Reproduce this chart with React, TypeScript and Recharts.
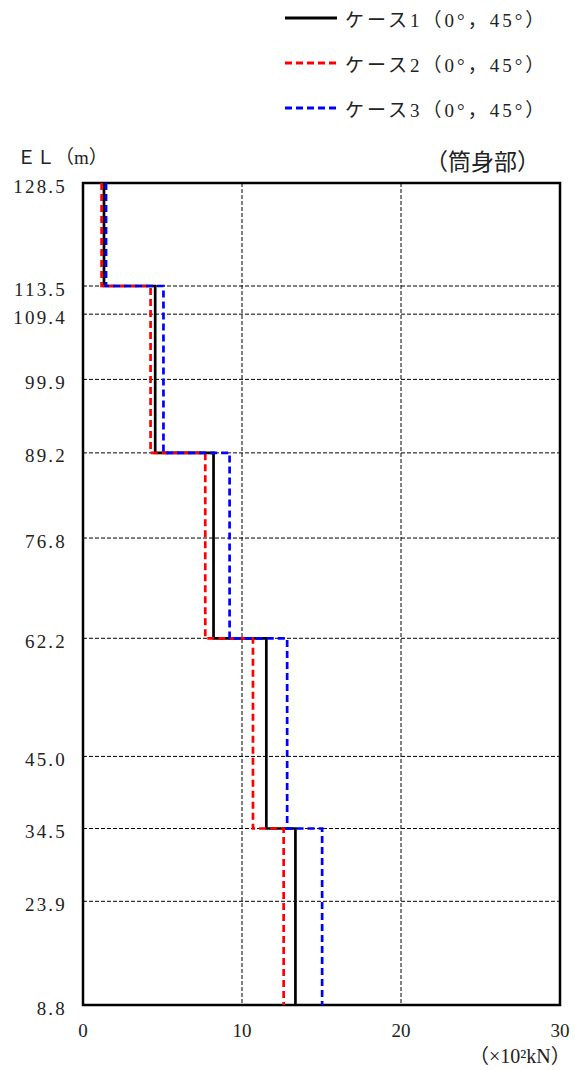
import React from 'react';
import { ComposedChart, Line, XAxis, YAxis, CartesianGrid, ReferenceArea, Legend } from 'recharts';

// Elevation boundaries of the stepped segments (m)
const levels = [128.5, 113.5, 89.2, 62.2, 34.5, 8.8];
// Segment values (×10² kN), one per segment between consecutive levels
const case1 = [1.32, 4.54, 8.21, 11.53, 13.36];
const case2 = [1.17, 4.25, 7.69, 10.69, 12.62];
const case3 = [1.45, 5.06, 9.22, 12.84, 15.04];
// Axis ticks
const elTicks = [128.5, 113.5, 109.4, 99.9, 89.2, 76.8, 62.2, 45.0, 34.5, 23.9, 8.8];
const xTicks = [0, 10, 20, 30];
const seriesNames = ['ケース1（0°，45°）', 'ケース2（0°，45°）', 'ケース3（0°，45°）'];

const series = [
  { key: 'c1', name: seriesNames[0], color: '#000000', dash: undefined as string | undefined },
  { key: 'c2', name: seriesNames[1], color: '#FF0000', dash: '7 4' },
  { key: 'c3', name: seriesNames[2], color: '#0000FF', dash: '7 4' },
];

const data: { el: number; c1: number; c2: number; c3: number }[] = [];
for (let i = 0; i < levels.length - 1; i++) {
  data.push({ el: levels[i], c1: case1[i], c2: case2[i], c3: case3[i] });
  data.push({ el: levels[i + 1], c1: case1[i], c2: case2[i], c3: case3[i] });
}

const LATIN = '"Liberation Serif", "Times New Roman", Times, serif';
const MIXED = '"Liberation Serif", "Times New Roman", Times, serif, "Noto Sans CJK JP"';

const YTick = (props: any) => {
  const { x, y, payload } = props;
  return (
    <text x={x} y={y + 9.5} textAnchor="end" style={{ fontFamily: LATIN, fontSize: 19, letterSpacing: '2.2px' }} fill="#222">
      {Number(payload.value).toFixed(1)}
    </text>
  );
};

const XTick = (props: any) => {
  const { x, y, payload } = props;
  return (
    <text x={x} y={y} textAnchor="middle" style={{ fontFamily: LATIN, fontSize: 19 }} fill="#222">
      {payload.value}
    </text>
  );
};

const LegendContent = () => (
  <div style={{ fontFamily: MIXED, fontSize: 19, color: '#222' }}>
    {series.map((s, i) => (
      <div key={s.key} style={{ position: 'absolute', left: 285, top: 18 + i * 45 - 14, height: 28, display: 'flex', alignItems: 'center', whiteSpace: 'nowrap' }}>
        <svg width={52} height={6} style={{ display: 'block' }}>
          <line x1={0} y1={3} x2={52} y2={3} stroke={s.color} strokeWidth={3} strokeDasharray={s.dash} />
        </svg>
        <span style={{ marginLeft: 8, letterSpacing: '3px' }}>{s.name}</span>
      </div>
    ))}
  </div>
);

export default function App() {
  return (
    <div style={{ position: 'absolute', left: 0, top: 0, width: 575, height: 1070, background: '#fff' }}>
      <ComposedChart
        width={575}
        height={1070}
        layout="vertical"
        data={data}
        margin={{ top: 183, right: 15, bottom: 25, left: 8 }}
      >
        <CartesianGrid stroke="#000" strokeWidth={1} strokeDasharray="4 2" horizontal vertical />
        <XAxis
          type="number"
          dataKey="c1"
          domain={[0, 30]}
          ticks={xTicks}
          allowDataOverflow
          axisLine={false}
          tickLine={false}
          tickSize={0}
          tickMargin={32}
          height={40}
          interval={0}
          tick={<XTick />}
        />
        <YAxis
          type="number"
          dataKey="el"
          domain={[8.8, 128.5]}
          ticks={elTicks}
          allowDataOverflow
          reversed
          axisLine={false}
          tickLine={false}
          tickSize={0}
          tickMargin={16}
          width={75}
          interval={0}
          tick={<YTick />}
        />
        <ReferenceArea x1={0} x2={30} y1={8.8} y2={128.5} fill="none" stroke="#000" strokeWidth={2.5} fillOpacity={0} />
        {series.map((s) => (
          <Line
            key={s.key}
            type="linear"
            dataKey={s.key}
            name={s.name}
            stroke={s.color}
            strokeWidth={2.7}
            strokeDasharray={s.dash}
            dot={false}
            activeDot={false}
            isAnimationActive={false}
          />
        ))}
        <Legend
          layout="horizontal"
          verticalAlign="middle"
          align="center"
          wrapperStyle={{ position: 'absolute', left: 0, top: 0, width: 575, height: 0 }}
          content={<LegendContent />}
        />
      </ComposedChart>
      <div style={{ position: 'absolute', left: 17, top: 144, fontFamily: MIXED, fontSize: 19, color: '#222', whiteSpace: 'nowrap', lineHeight: '28px' }}>ＥＬ（m）</div>
      <div style={{ position: 'absolute', left: 425, top: 145, fontFamily: '"Noto Sans CJK JP", sans-serif', fontSize: 23, color: '#222', whiteSpace: 'nowrap', lineHeight: '30px' }}>（筒身部）</div>
      <div style={{ position: 'absolute', left: 469, top: 1042, fontFamily: MIXED, fontSize: 20, color: '#222', whiteSpace: 'nowrap', lineHeight: '28px' }}>（×10²kN）</div>
    </div>
  );
}
